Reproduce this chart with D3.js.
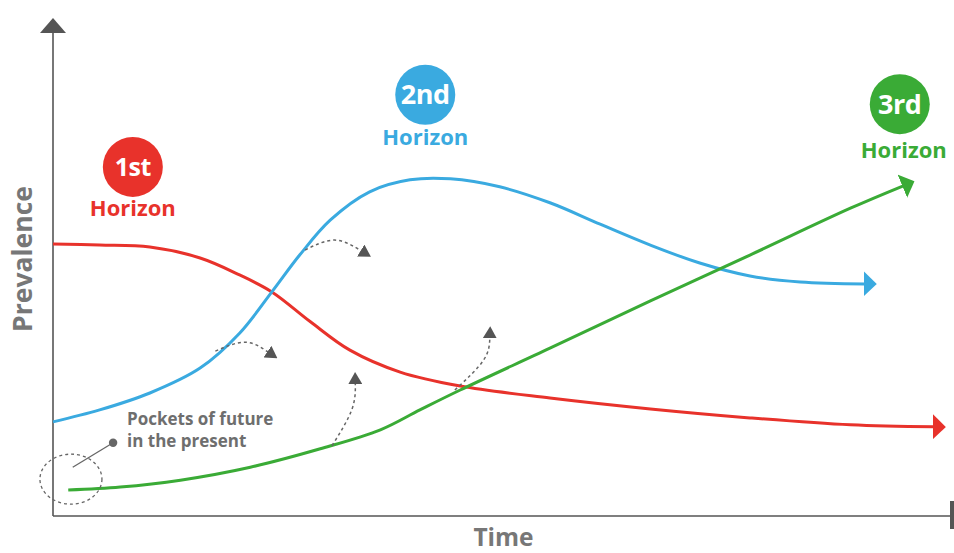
<!DOCTYPE html>
<html>
<head>
<meta charset="utf-8">
<script src="https://cdn.jsdelivr.net/npm/d3@7"></script>
<style>
  html, body { margin: 0; padding: 0; background: #fff; }
  svg { display: block; font-family: "Open Sans", "Noto Sans", sans-serif; }
</style>
</head>
<body>
<svg id="chart" width="954" height="553"></svg>
<script>
// ---- Data (time 0..100, prevalence 0..100) ----
const horizon1 = [[0,54.6],[5.2,54.4],[10.8,54.0],[16.4,51.8],[20.8,48.4],[24.4,45.0],[28.7,39.0],[33.1,33.3],[38.7,28.9],[45.4,26.1],[55.4,23.7],[66.6,21.5],[77.7,19.7],[88.9,18.3],[98.2,17.9]];
const horizon2 = [[0,18.9],[5.2,21.3],[10.8,24.7],[16.4,29.7],[20.8,36.7],[24.4,45.0],[27.5,52.4],[30.9,59.4],[35.3,65.1],[39.8,67.5],[44.3,67.7],[49.8,66.1],[55.4,62.9],[61.0,58.6],[66.6,54.4],[72.1,50.8],[77.7,48.2],[83.3,47.0],[90.5,46.6]];
const horizon3 = [[1.7,5.2],[7.5,5.8],[14.2,7.2],[22.0,9.8],[29.8,13.5],[36.5,17.3],[40.9,21.3],[45.4,25.3],[55.4,33.7],[66.6,43.2],[77.7,52.4],[88.9,61.8],[94.8,66.3]];
const seriesNames = ["1st", "2nd", "3rd"];
const seriesColors = ["#e8322b", "#3aaae0", "#3aab36"];
const badgePos = [[8.9,70.1],[41.5,84.6],[94.4,82.7]]; // circle centres in data units
const axisTitles = {x: "Time", y: "Prevalence"};
const noteLines = ["Pockets of future", "in the present"];
// dotted transition arrows (data units)
const transitions = [
  [[18.1,33.1],[21.4,34.9],[24.0,32.9]],
  [[28.1,53.4],[31.4,55.4],[34.4,53.2]],
  [[31.1,14.1],[33.3,21.3],[33.7,26.7]],
  [[44.8,25.3],[48.0,31.3],[48.7,35.9]]
];
const pocketCentre = [2.0, 7.4];
const pocketDot = [6.7, 14.7];
const pocketLineEnd = [2.2, 9.8];

// ---- Layout ----
const svg = d3.select("#chart");
const x = d3.scaleLinear().domain([0, 100]).range([53, 950]);
const y = d3.scaleLinear().domain([0, 100]).range([516, 18]);
const axisColor = "#555";
const textGrey = "#777";

const defs = svg.append("defs");
seriesColors.forEach((c, i) => {
  defs.append("marker").attr("id", "arr" + i)
    .attr("viewBox", "0 0 13 25").attr("refX", 1).attr("refY", 12.5)
    .attr("markerWidth", 13).attr("markerHeight", 25)
    .attr("markerUnits", "userSpaceOnUse").attr("orient", "auto")
    .append("path").attr("d", "M0,0 L13,12.5 L0,25 Z").attr("fill", c);
});
defs.append("marker").attr("id", "darr")
  .attr("viewBox", "0 0 12 14").attr("refX", 1).attr("refY", 7)
  .attr("markerWidth", 12).attr("markerHeight", 14)
  .attr("markerUnits", "userSpaceOnUse").attr("orient", "auto")
  .append("path").attr("d", "M0,0 L12,7 L0,14 Z").attr("fill", "#555");

// axes
svg.append("line").attr("x1", x(0)).attr("x2", x(0)).attr("y1", y(0)).attr("y2", 30)
  .attr("stroke", axisColor).attr("stroke-width", 1.6);
svg.append("path").attr("d", `M${x(0)},18 L${x(0)-13},33 L${x(0)+13},33 Z`).attr("fill", "#555");
svg.append("line").attr("x1", x(0)).attr("x2", 951).attr("y1", y(0)).attr("y2", y(0))
  .attr("stroke", axisColor).attr("stroke-width", 1.6);
svg.append("rect").attr("x", 950).attr("y", 501).attr("width", 4).attr("height", 28).attr("fill", "#555");

svg.append("text").attr("x", 503.5).attr("y", 546).attr("text-anchor", "middle")
  .attr("font-size", 24.5).attr("font-weight", 700).attr("fill", textGrey).text(axisTitles.x);
svg.append("text").attr("transform", "translate(32,259) rotate(-90)").attr("text-anchor", "middle")
  .attr("font-size", 26.5).attr("font-weight", 700).attr("fill", textGrey).text(axisTitles.y);

// series
const line = d3.line().x(d => x(d[0])).y(d => y(d[1])).curve(d3.curveCatmullRom.alpha(0.5));
[horizon1, horizon2, horizon3].forEach((s, i) => {
  svg.append("path").attr("d", line(s)).attr("fill", "none")
    .attr("stroke", seriesColors[i]).attr("stroke-width", 3)
    .attr("marker-end", `url(#arr${i})`);
});

// dotted transitions
const dline = d3.line().x(d => x(d[0])).y(d => y(d[1])).curve(d3.curveNatural);
transitions.forEach(t => {
  svg.append("path").attr("d", dline(t)).attr("fill", "none")
    .attr("stroke", "#666").attr("stroke-width", 1.5).attr("stroke-dasharray", "3,3")
    .attr("marker-end", "url(#darr)");
});

// pockets annotation
svg.append("ellipse").attr("cx", x(pocketCentre[0])).attr("cy", y(pocketCentre[1]))
  .attr("rx", 31).attr("ry", 25).attr("fill", "none")
  .attr("stroke", "#666").attr("stroke-width", 1.3).attr("stroke-dasharray", "3,3");
svg.append("line").attr("x1", x(pocketDot[0])).attr("y1", y(pocketDot[1]))
  .attr("x2", x(pocketLineEnd[0])).attr("y2", y(pocketLineEnd[1]))
  .attr("stroke", "#666").attr("stroke-width", 1.3);
svg.append("circle").attr("cx", x(pocketDot[0])).attr("cy", y(pocketDot[1])).attr("r", 4.2).attr("fill", "#666");
noteLines.forEach((l, i) => {
  svg.append("text").attr("x", 127).attr("y", 425 + i * 22)
    .attr("font-size", 17).attr("font-weight", 700).attr("fill", "#6e6e6e").text(l);
});

// badges
const badgeFont = [25, 27, 27];
const labelOffset = [49, 50, 54];
badgePos.forEach((p, i) => {
  const cx = x(p[0]), cy = y(p[1]);
  svg.append("circle").attr("cx", cx).attr("cy", cy).attr("r", 30).attr("fill", seriesColors[i]);
  svg.append("text").attr("x", cx).attr("y", cy + 9.5).attr("text-anchor", "middle")
    .attr("font-size", badgeFont[i]).attr("font-weight", 700).attr("fill", "#fff")
    .attr("letter-spacing", -0.5).text(seriesNames[i]);
  svg.append("text").attr("x", cx + (i === 2 ? 4 : 0)).attr("y", cy + labelOffset[i]).attr("text-anchor", "middle")
    .attr("font-size", 22).attr("font-weight", 700).attr("fill", seriesColors[i]).text("Horizon");
});
</script>
</body>
</html>
